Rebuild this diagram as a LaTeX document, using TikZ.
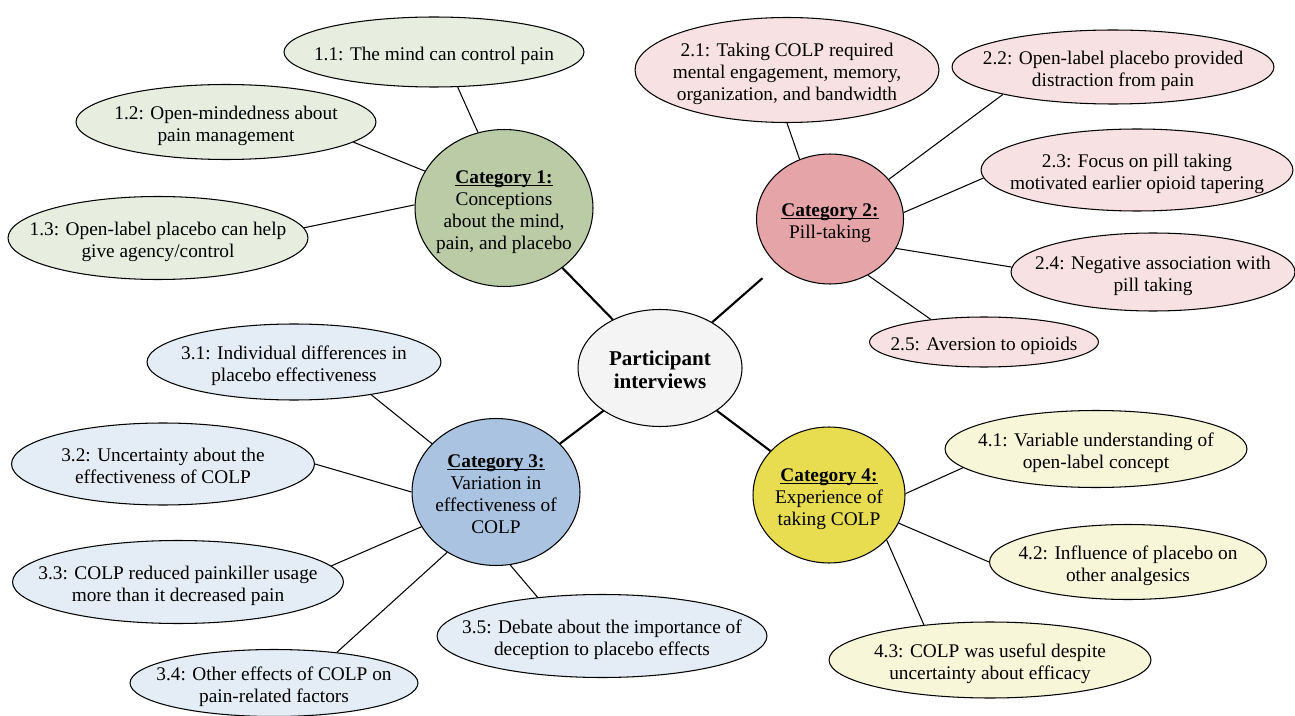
\documentclass[tikz,border=0pt]{standalone}
\usepackage{fontspec}
\setmainfont{Liberation Serif}
\usetikzlibrary{shapes.geometric}

\definecolor{hubfill}{HTML}{F4F4F4}
\definecolor{cataf}{HTML}{BBCBA6}
\definecolor{leafa}{HTML}{E7EDDF}
\definecolor{catbf}{HTML}{E5A5A8}
\definecolor{leafb}{HTML}{F8E1E2}
\definecolor{catcf}{HTML}{A9C3E0}
\definecolor{leafc}{HTML}{E4EDF6}
\definecolor{catdf}{HTML}{E8DC51}
\definecolor{leafd}{HTML}{F8F6D8}

\newcommand{\ovaltext}[1]{\makebox[0pt]{\raisebox{-2.5pt}[\height][\depth]{\begin{tabular}{@{}c@{}}#1\end{tabular}}}}
\newcommand{\catline}[1]{\setbox0\hbox{\textbf{#1}}\rlap{\rule[-1.4pt]{\wd0}{0.6pt}}\box0}

\begin{document}
\begin{tikzpicture}[x=0.02cm, y=-0.02cm,
    oval/.style={ellipse, draw, line width=0.6pt, inner sep=0pt, font=\fontsize{11}{12.5}\selectfont},
    twig/.style={line width=0.6pt},
    spoke/.style={line width=1.2pt}]
    \useasboundingbox (0,0) rectangle (1295,716);

    % Centre and categories
    \node[oval, fill=hubfill, minimum width=3.28cm, minimum height=2.34cm, font=\fontsize{12}{13.5}\selectfont\bfseries] (hub) at (660,368) {\ovaltext{Participant\\interviews}};
    \node[oval, fill=cataf, minimum width=3.56cm, minimum height=3.14cm] (cat1) at (504,208) {\ovaltext{\catline{Category 1:}\\Conceptions\\about the mind,\\pain, and placebo}};
    \node[oval, fill=catbf, minimum width=2.94cm, minimum height=2.6cm] (cat2) at (830,219) {\ovaltext{\catline{Category 2:}\\Pill-taking}};
    \node[oval, fill=catcf, minimum width=3.36cm, minimum height=2.94cm] (cat3) at (496,492) {\ovaltext{\catline{Category 3:}\\Variation in\\effectiveness of\\COLP}};
    \node[oval, fill=catdf, minimum width=3.04cm, minimum height=2.72cm] (cat4) at (829,495) {\ovaltext{\catline{Category 4:}\\Experience of\\taking COLP}};

    % Category 1 themes
    \node[oval, fill=leafa, minimum width=6.0cm, minimum height=1.4cm] (t11) at (434,52) {\ovaltext{1.1: The mind can control pain}};
    \node[oval, fill=leafa, minimum width=6.0cm, minimum height=1.5cm] (t12) at (226,122) {\ovaltext{1.2: Open-mindedness about\\pain management}};
    \node[oval, fill=leafa, minimum width=6.0cm, minimum height=1.66cm] (t13) at (158,238) {\ovaltext{1.3: Open-label placebo can help\\give agency/control}};

    % Category 2 themes
    \node[oval, fill=leafb, minimum width=6.08cm, minimum height=2.1cm] (t21) at (787,70) {\ovaltext{2.1: Taking COLP required\\mental engagement, memory,\\organization, and bandwidth}};
    \node[oval, fill=leafb, minimum width=6.44cm, minimum height=1.48cm] (t22) at (1113,67) {\ovaltext{2.2: Open-label placebo provided\\distraction from pain}};
    \node[oval, fill=leafb, minimum width=6.24cm, minimum height=1.64cm] (t23) at (1137,170) {\ovaltext{2.3: Focus on pill taking\\motivated earlier opioid tapering}};
    \node[oval, fill=leafb, minimum width=5.68cm, minimum height=1.56cm] (t24) at (1153,272) {\ovaltext{2.4: Negative association with\\pill taking}};
    \node[oval, fill=leafb, minimum width=4.58cm, minimum height=1.0cm] (t25) at (984,342) {\ovaltext{2.5: Aversion to opioids}};

    % Category 3 themes
    \node[oval, fill=leafc, minimum width=5.88cm, minimum height=1.52cm] (t31) at (294,362) {\ovaltext{3.1: Individual differences in\\placebo effectiveness}};
    \node[oval, fill=leafc, minimum width=6.06cm, minimum height=1.64cm] (t32) at (163,464) {\ovaltext{3.2: Uncertainty about the\\effectiveness of COLP}};
    \node[oval, fill=leafc, minimum width=6.62cm, minimum height=1.66cm] (t33) at (178,582) {\ovaltext{3.3: COLP reduced painkiller usage\\more than it decreased pain}};
    \node[oval, fill=leafc, minimum width=5.76cm, minimum height=1.34cm] (t34) at (274,683) {\ovaltext{3.4: Other effects of COLP on\\pain-related factors}};
    \node[oval, fill=leafc, minimum width=6.6cm, minimum height=1.66cm] (t35) at (602,636) {\ovaltext{3.5: Debate about the importance of\\deception to placebo effects}};

    % Category 4 themes
    \node[oval, fill=leafd, minimum width=6.04cm, minimum height=1.54cm] (t41) at (1096,449) {\ovaltext{4.1: Variable understanding of\\open-label concept}};
    \node[oval, fill=leafd, minimum width=5.54cm, minimum height=1.5cm] (t42) at (1128,562) {\ovaltext{4.2: Influence of placebo on\\other analgesics}};
    \node[oval, fill=leafd, minimum width=6.44cm, minimum height=1.52cm] (t43) at (990,660) {\ovaltext{4.3: COLP was useful despite\\uncertainty about efficacy}};

    % Spokes from the centre
    \draw[spoke] (hub) -- (cat1);
    \draw[spoke, shorten >=0.4cm] (hub) -- (cat2);
    \draw[spoke] (hub) -- (cat3);
    \draw[spoke] (hub) -- (cat4);

    % Twigs to the themes
    \draw[twig] (cat1.109) -- (t11.304);
    \draw[twig] (cat1.155) -- (t12.351);
    \draw[twig] (cat1.178) -- (t13.4);
    \draw[twig] (cat2.117) -- (t21.270);
    \draw[twig] (cat2.34) -- (t22.194);
    \draw[twig] (cat2.5) -- (t23.183);
    \draw[twig] (cat2.336) -- (t24.178);
    \draw[twig] (cat2.304) -- (t25.157);
    \draw[twig] (cat3.143) -- (t31.337);
    \draw[twig] (cat3.180) -- (t32.0);
    \draw[twig] (cat3.205) -- (t33.6);
    \draw[twig] (cat3.231) -- (t34.26);
    \draw[twig] (cat3.281) -- (t35.149);
    \draw[twig] (cat4.1) -- (t41.188);
    \draw[twig] (cat4.338) -- (t42.180);
    \draw[twig] (cat4.322) -- (t43.152);
\end{tikzpicture}
\end{document}
